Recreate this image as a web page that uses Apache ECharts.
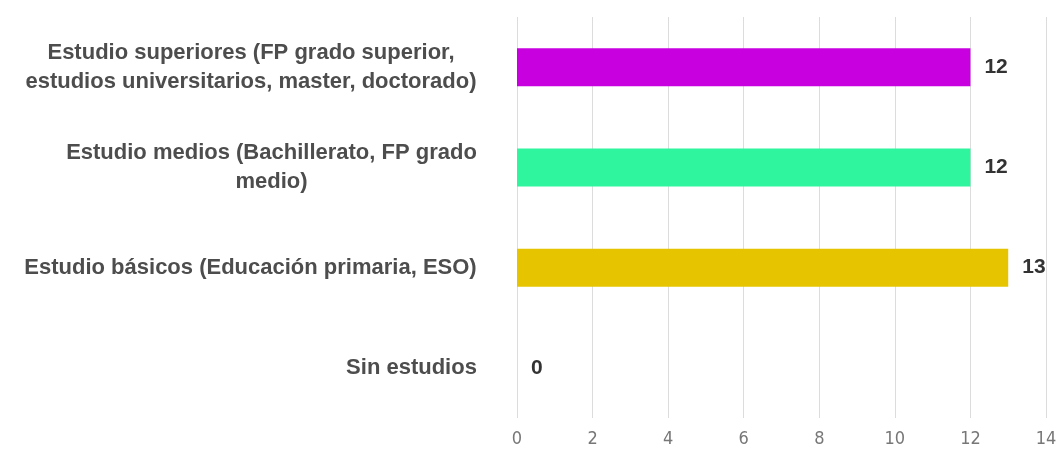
<!DOCTYPE html>
<html>
<head>
<meta charset="utf-8">
<script src="https://cdn.jsdelivr.net/npm/echarts@6/dist/echarts.min.js"></script>
<style>
  html, body { margin: 0; padding: 0; background: #fff; }
  #chart { width: 1060px; height: 449px; }
</style>
</head>
<body>
<div id="chart"></div>
<script>
// categories, top to bottom as in the picture
const categories = [
  'Estudio superiores (FP grado superior,\nestudios universitarios, master, doctorado)',
  'Estudio medios (Bachillerato, FP grado\nmedio)',
  'Estudio básicos (Educación primaria, ESO)',
  'Sin estudios'
];
const values = [12, 12, 13, 0];
const barColors = ['#c800e0', '#2ff59e', '#e6c400', '#999999'];
const xTicks = [0, 2, 4, 6, 8, 10, 12, 14];

const labelFamily = '"Liberation Sans", Arial, sans-serif';
const labelFont = 'bold 22px ' + labelFamily;

// measure each label block so the lines can be centred inside a right-aligned block
const ctx = document.createElement('canvas').getContext('2d');
ctx.font = labelFont;
const rich = {};
categories.forEach((c, i) => {
  const w = Math.max(...c.split('\n').map(l => ctx.measureText(l).width));
  rich['l' + i] = {
    width: Math.ceil(w),
    align: 'center',
    fontSize: 22,
    fontWeight: 'bold',
    lineHeight: 29,
    color: '#4d4d4d',
    fontFamily: labelFamily
  };
});

// the axis is drawn bottom-up, so reverse for display order
const yData = categories.slice().reverse();
const seriesData = values.map((v, i) => ({
  value: v,
  itemStyle: { color: barColors[i] }
})).reverse();

const myChart = echarts.init(document.getElementById('chart'), null, { renderer: 'canvas' });

const option = {
  animation: false,
  grid: {
    left: 517,
    right: 14,
    top: 17,
    bottom: 31,
    containLabel: false
  },
  xAxis: {
    type: 'value',
    min: xTicks[0],
    max: xTicks[xTicks.length - 1],
    interval: 2,
    axisLine: { show: false },
    axisTick: { show: false },
    splitLine: { lineStyle: { color: '#dcdcdc', width: 1 } },
    axisLabel: {
      color: '#777',
      fontSize: 18,
      margin: 12,
      fontFamily: '"DejaVu Sans Condensed", "Liberation Sans", sans-serif'
    }
  },
  yAxis: {
    type: 'category',
    data: yData,
    axisLine: { show: false },
    axisTick: { show: false },
    axisLabel: {
      margin: 40,
      align: 'right',
      formatter: (val) => {
        const i = categories.indexOf(val);
        return val.split('\n').map(l => '{l' + i + '|' + l + '}').join('\n');
      },
      rich: rich
    }
  },
  series: [
    {
      type: 'bar',
      data: seriesData,
      barWidth: 38,
      label: {
        show: true,
        position: 'right',
        distance: 14,
        color: '#333',
        fontSize: 21,
        fontWeight: 'bold',
        fontFamily: labelFamily
      }
    }
  ]
};

myChart.setOption(option);
</script>
</body>
</html>
